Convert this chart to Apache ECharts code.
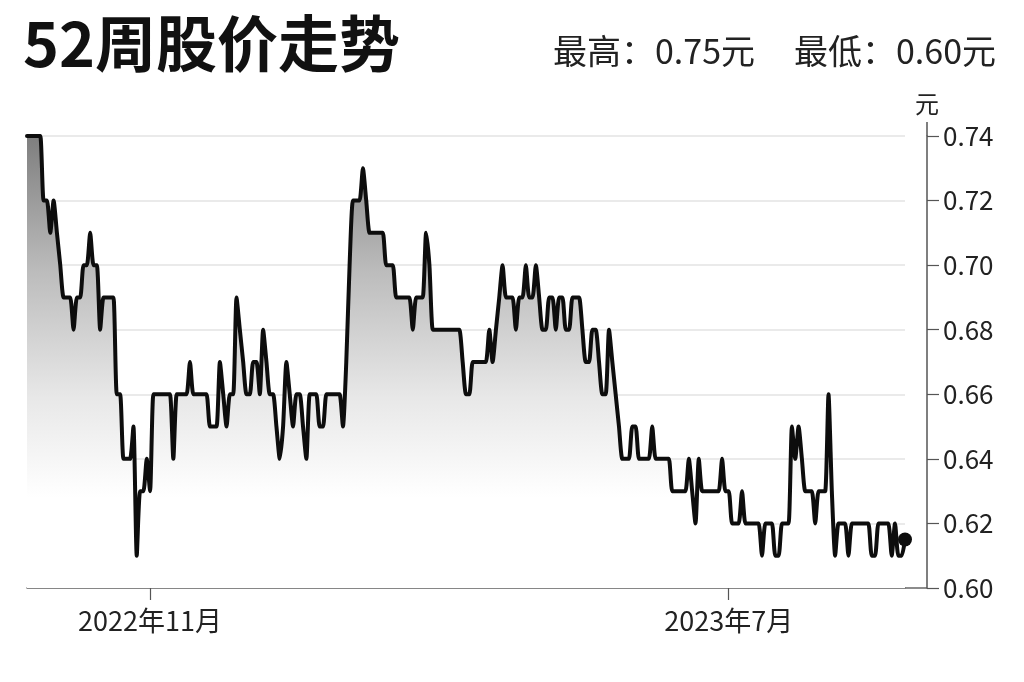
<!DOCTYPE html>
<html>
<head>
<meta charset="utf-8">
<script src="https://cdn.jsdelivr.net/npm/echarts@6/dist/echarts.min.js"></script>
<style>
html,body{margin:0;padding:0;background:#fff;}
#chart{width:1024px;height:682px;}
</style>
</head>
<body>
<div id="chart"></div>
<script>
// ---- data ----
const startDate = '2022-09-09';
const endDate = '2023-09-14';
const labelMonths = ['2022-11', '2023-07'];
const titleText = '52周股价走势';
const highPrice = '0.75';
const lowPrice = '0.60';
const yMin = 0.60, yMax = 0.74, yStep = 0.02;
const prices = [
 0.74,0.74,0.74,0.74,0.74,0.72,0.72,0.71,0.72,0.71,
 0.70,0.69,0.69,0.69,0.68,0.69,0.69,0.70,0.70,0.71,
 0.70,0.70,0.68,0.69,0.69,0.69,0.69,0.66,0.66,0.64,
 0.64,0.64,0.65,0.61,0.63,0.63,0.64,0.63,0.66,0.66,
 0.66,0.66,0.66,0.66,0.64,0.66,0.66,0.66,0.66,0.67,
 0.66,0.66,0.66,0.66,0.66,0.65,0.65,0.65,0.67,0.66,
 0.65,0.66,0.66,0.69,0.68,0.67,0.66,0.66,0.67,0.67,
 0.66,0.68,0.67,0.66,0.66,0.65,0.64,0.65,0.67,0.66,
 0.65,0.66,0.66,0.65,0.64,0.66,0.66,0.66,0.65,0.65,
 0.66,0.66,0.66,0.66,0.66,0.65,0.67,0.70,0.72,0.72,
 0.72,0.73,0.72,0.71,0.71,0.71,0.71,0.71,0.70,0.70,
 0.70,0.69,0.69,0.69,0.69,0.69,0.68,0.69,0.69,0.69,
 0.71,0.70,0.68,0.68,0.68,0.68,0.68,0.68,0.68,0.68,
 0.68,0.67,0.66,0.66,0.67,0.67,0.67,0.67,0.67,0.68,
 0.67,0.68,0.69,0.70,0.69,0.69,0.69,0.68,0.69,0.69,
 0.70,0.69,0.69,0.70,0.69,0.68,0.68,0.69,0.69,0.68,
 0.69,0.69,0.68,0.68,0.69,0.69,0.69,0.68,0.67,0.67,
 0.68,0.68,0.67,0.66,0.66,0.68,0.67,0.66,0.65,0.64,
 0.64,0.64,0.65,0.65,0.64,0.64,0.64,0.64,0.65,0.64,
 0.64,0.64,0.64,0.64,0.63,0.63,0.63,0.63,0.63,0.64,
 0.63,0.62,0.64,0.63,0.63,0.63,0.63,0.63,0.63,0.64,
 0.63,0.63,0.62,0.62,0.62,0.63,0.62,0.62,0.62,0.62,
 0.62,0.61,0.62,0.62,0.62,0.61,0.61,0.62,0.62,0.62,
 0.65,0.64,0.65,0.64,0.63,0.63,0.63,0.62,0.63,0.63,
 0.63,0.66,0.63,0.61,0.62,0.62,0.62,0.61,0.62,0.62,
 0.62,0.62,0.62,0.62,0.61,0.61,0.62,0.62,0.62,0.62,
 0.61,0.62,0.61,0.61,0.615
];

// trading-day categories (weekdays)
const dates = [];
{
  const s = new Date(startDate + 'T00:00:00Z'), e = new Date(endDate + 'T00:00:00Z');
  for (let d = new Date(s); d <= e; d.setUTCDate(d.getUTCDate() + 1)) {
    const wd = d.getUTCDay();
    if (wd !== 0 && wd !== 6) dates.push(d.toISOString().slice(0, 10));
  }
}
const labelDates = new Set();
labelMonths.forEach(m => {
  const d = dates.find(x => x.startsWith(m));
  if (d) labelDates.add(d);
});
const showAt = (i, v) => {
  if (typeof v === 'string' && labelDates.has(v)) return true;
  const n = (typeof i === 'object' && i !== null) ? i.value : i;
  return labelDates.has(dates[n]);
};
const fmtMonth = (v) => {
  if (!labelDates.has(v)) return '';
  const [y, m] = v.split('-'); return y + '年' + parseInt(m, 10) + '月';
};

// ---- layout ----
const FONT = '"Noto Sans CJK SC", "Noto Sans", sans-serif';
const W = 1024, H = 682;
const gLeft = 27, gRight = 119, gTop = 136, gBottom = 94, yOff = 22;
const axisX = W - gRight + yOff, axisY = H - gBottom;

const chart = echarts.init(document.getElementById('chart'), null, {renderer: 'canvas'});
chart.setOption({
  backgroundColor: '#ffffff',
  animation: false,
  textStyle: {fontFamily: FONT},
  title: [
    {text: titleText, left: 18, top: 8,
     textStyle: {fontFamily: FONT, fontSize: 61, fontWeight: 'bold', color: '#111'}},
    {text: '最高：' + highPrice + '元', left: 548, top: 29,
     textStyle: {fontFamily: FONT, fontSize: 34, fontWeight: 'normal', color: '#222'}},
    {text: '最低：' + lowPrice + '元', left: 789, top: 29,
     textStyle: {fontFamily: FONT, fontSize: 34, fontWeight: 'normal', color: '#222'}}
  ],
  grid: {left: gLeft, right: gRight, top: gTop, bottom: gBottom, containLabel: false},
  xAxis: {
    type: 'category', data: dates, boundaryGap: false,
    axisLine: {show: true, lineStyle: {color: '#666', width: 1.5}},
    axisTick: {show: true, interval: showAt, length: 12, lineStyle: {color: '#555', width: 1.2}},
    axisLabel: {show: true, interval: showAt, formatter: fmtMonth, fontSize: 27, color: '#222', margin: 19,
                fontFamily: FONT, hideOverlap: false},
    splitLine: {show: false}
  },
  yAxis: {
    type: 'value', position: 'right', min: yMin, max: yMax, interval: yStep, offset: yOff,
    name: '元', nameLocation: 'end', nameGap: 20,
    nameTextStyle: {fontSize: 24, color: '#222', fontFamily: FONT},
    axisLine: {show: true, lineStyle: {color: '#555', width: 1.5}},
    axisTick: {show: true, length: 12, lineStyle: {color: '#555', width: 1.2}},
    axisLabel: {fontSize: 26, color: '#222', margin: 16, fontFamily: FONT,
                formatter: v => v.toFixed(2)},
    splitLine: {show: true, lineStyle: {color: '#e3e3e3', width: 1.5}}
  },
  series: [
    {
      type: 'line', data: prices, showSymbol: false, symbol: 'none', smooth: 0.2,
      lineStyle: {color: '#0d0d0d', width: 4, join: 'round', cap: 'round'},
      areaStyle: {
        origin: 'start', opacity: 1,
        color: new echarts.graphic.LinearGradient(0, 0, 0, 1, [
          {offset: 0, color: '#7e7e7e'},
          {offset: 0.3, color: '#bcbcbc'},
          {offset: 0.58, color: '#e8e8e8'},
          {offset: 0.8, color: '#ffffff'},
          {offset: 1, color: '#ffffff'}
        ])
      },
      z: 3
    },
    {
      type: 'scatter',
      data: [[dates[prices.length - 1], prices[prices.length - 1]]],
      symbolSize: 14, itemStyle: {color: '#0d0d0d', opacity: 1}, z: 5
    }
  ],
  graphic: [
    {type: 'line', shape: {x1: W - gRight, y1: axisY, x2: axisX, y2: axisY},
     style: {stroke: '#666', lineWidth: 1.5}, silent: true},
    {type: 'line', shape: {x1: axisX, y1: gTop - 14, x2: axisX, y2: gTop},
     style: {stroke: '#555', lineWidth: 1.5}, silent: true}
  ]
});
</script>
</body>
</html>
